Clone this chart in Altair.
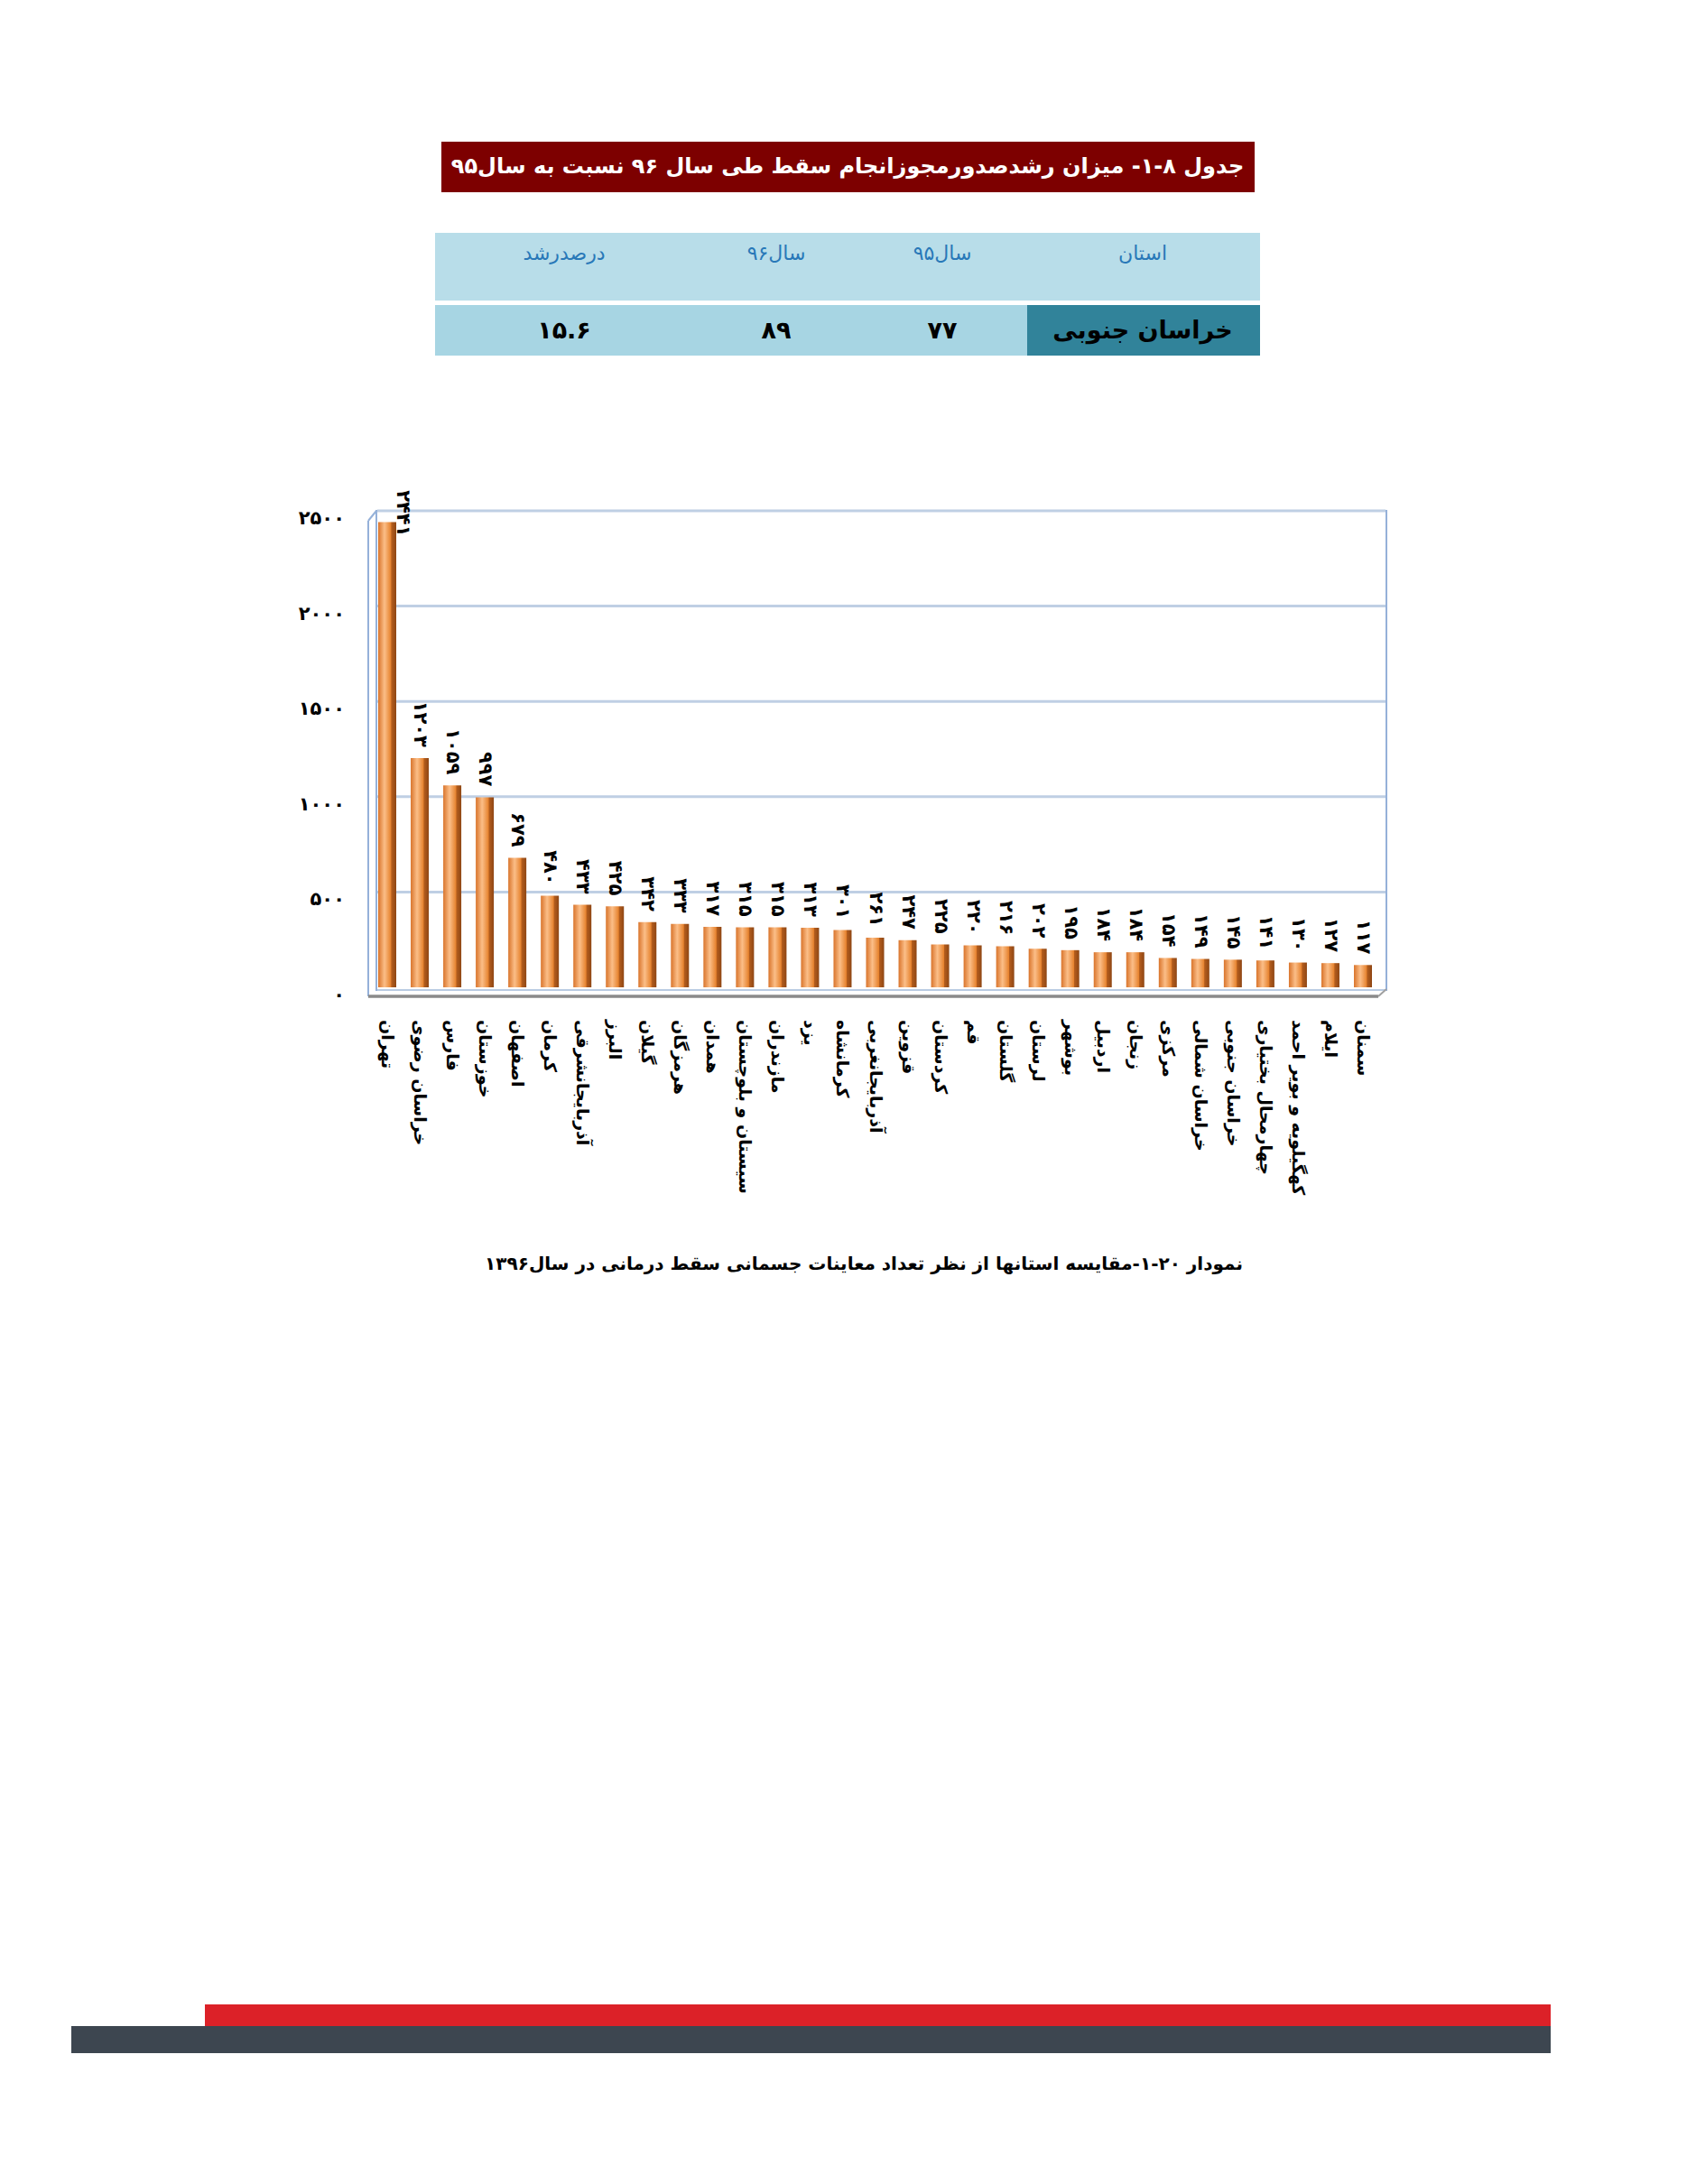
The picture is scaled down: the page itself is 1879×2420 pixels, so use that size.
import altair as alt
import pandas as pd

# ---------------- data ----------------
provinces = ["تهران", "خراسان رضوی", "فارس", "خوزستان", "اصفهان", "کرمان",
             "آذربایجانشرقی", "البرز", "گیلان", "هرمزگان", "همدان",
             "سیستان و بلوچستان", "مازندران", "یزد", "کرمانشاه", "آذربایجانغربی",
             "قزوین", "کردستان", "قم", "گلستان", "لرستان", "بوشهر", "اردبیل",
             "زنجان", "مرکزی", "خراسان شمالی", "خراسان جنوبی", "چهارمحال بختیاری",
             "کهگیلویه و بویر احمد", "ایلام", "سمنان"]
counts = [2441, 1203, 1059, 997, 679, 480, 433, 425, 342, 333, 317, 315, 315,
          313, 301, 261, 247, 225, 220, 216, 202, 195, 184, 184, 154, 149, 145,
          141, 130, 127, 117]
y_ticks = [0, 500, 1000, 1500, 2000, 2500]

title_text = "جدول ۸-۱- میزان رشدصدورمجوزانجام سقط طی سال ۹۶ نسبت به سال۹۵"
table_headers = ["استان", "سال۹۵", "سال۹۶", "درصدرشد"]
table_row = ["خراسان جنوبی", "۷۷", "۸۹", "۱۵.۶"]
caption_text = "نمودار ۲۰-۱-مقایسه استانها از نظر تعداد معاینات جسمانی سقط درمانی در سال۱۳۹۶"

FA = str.maketrans("0123456789", "۰۱۲۳۴۵۶۷۸۹")
FONT = "DejaVu Sans"

df = pd.DataFrame({
    "province": provinces,
    "count": counts,
    "label": [str(v).translate(FA) for v in counts],
})
ticks_df = pd.DataFrame({"v": y_ticks, "t": [str(v).translate(FA) for v in y_ticks]})

# ---------------- scales ----------------
xs = alt.Scale(type="point", domain=provinces, range=[429, 1510], padding=0)
ys = alt.Scale(domain=[0, 2500], range=[1094, 566], nice=False, zero=True)
X = alt.X("province:N", scale=xs, axis=None, sort=provinces)


def one():
    return alt.Data(values=[{}])


def rect(x1, x2, y1, y2, color, stroke=None, sw=0, fill_op=1):
    kw = dict(color=color, fillOpacity=fill_op)
    if stroke:
        kw.update(stroke=stroke, strokeWidth=sw)
    return alt.Chart(one()).mark_rect(**kw).encode(
        x=alt.value(x1), x2=alt.value(x2), y=alt.value(y1), y2=alt.value(y2))


def line(x1, y1, x2, y2, color, sw):
    return alt.Chart(one()).mark_rule(color=color, strokeWidth=sw).encode(
        x=alt.value(x1), x2=alt.value(x2), y=alt.value(y1), y2=alt.value(y2))


def label(text, x, y, size, color="black", weight="bold", align="center"):
    return alt.Chart(alt.Data(values=[{"t": text}])).mark_text(
        font=FONT, fontSize=size, fontWeight=weight, color=color, align=align,
        baseline="middle").encode(x=alt.value(x), y=alt.value(y), text="t:N")


layers = []

# ---------------- banner ----------------
layers.append(rect(489, 1390, 157, 213, "#7d0000"))
layers.append(label(title_text, 939, 185, 24, color="white"))

# ---------------- table ----------------
layers.append(rect(482, 1396, 258, 333, "#b8dde9"))
layers.append(rect(482, 1396, 338, 394, "#a7d5e3"))
layers.append(rect(1138, 1396, 338, 394, "#31839a"))
col_x = [1266, 1044, 860, 625]
for h, cx in zip(table_headers, col_x):
    layers.append(label(h, cx, 281, 22, color="#2878b8", weight="normal"))
for v, cx in zip(table_row, col_x):
    layers.append(label(v, cx, 367, 27, color="black"))

# ---------------- chart frame ----------------
layers.append(rect(417, 1536, 566, 1097, "white", stroke="#95b1d9", sw=2, fill_op=0))
layers.append(line(408, 577, 408, 1104, "#95b1d9", 2))
layers.append(line(408, 577, 417, 566, "#95b1d9", 2))

grid = alt.Chart(ticks_df).transform_filter("datum.v > 0").mark_rule(
    color="#bfcfe4", strokeWidth=3).encode(
    y=alt.Y("v:Q", scale=ys, axis=None), x=alt.value(418), x2=alt.value(1535))
layers.append(grid)

ylabels = alt.Chart(ticks_df).mark_text(
    font=FONT, fontSize=21, fontWeight="bold", align="right", baseline="middle",
    dy=9, color="black").encode(
    y=alt.Y("v:Q", scale=ys, axis=None), x=alt.value(382), text="t:N")
layers.append(ylabels)

# floor
layers.append(line(418, 1097, 1536, 1097, "#b9cbe2", 2))
layers.append(line(408, 1104, 1527, 1104, "#8a8a8a", 3.5))
layers.append(line(1527, 1104, 1536, 1096, "#a0a0a0", 2))

# ---------------- bars ----------------
grad = alt.LinearGradient(
    gradient="linear", x1=0, x2=1, y1=0, y2=0,
    stops=[alt.GradientStop(color="#d9742b", offset=0),
           alt.GradientStop(color="#fbbe88", offset=0.35),
           alt.GradientStop(color="#e6832f", offset=0.7),
           alt.GradientStop(color="#b45d1d", offset=0.74),
           alt.GradientStop(color="#8e4614", offset=1)])
bars = alt.Chart(df).mark_bar(color=grad, width=20).encode(
    x=X, y=alt.Y("count:Q", scale=ys, axis=None), y2=alt.value(1102))
layers.append(bars)

vlabels = alt.Chart(df).transform_filter("datum.count < 2000").mark_text(
    font=FONT, fontSize=21, fontWeight="bold", angle=90, align="right",
    baseline="middle", dx=-12, color="black").encode(
    x=X, y=alt.Y("count:Q", scale=ys, axis=None), text="label:N")
layers.append(vlabels)

vlabel_top = alt.Chart(df).transform_filter("datum.count >= 2000").mark_text(
    font=FONT, fontSize=21, fontWeight="bold", angle=90, align="right",
    baseline="middle", dx=16, dy=-17, color="black").encode(
    x=X, y=alt.Y("count:Q", scale=ys, axis=None), text="label:N")
layers.append(vlabel_top)

xlabels = alt.Chart(df).mark_text(
    font=FONT, fontSize=19, fontWeight="bold", angle=90, align="left",
    baseline="middle", color="black").encode(
    x=X, y=alt.value(1130), text="province:N")
layers.append(xlabels)

# ---------------- caption ----------------
layers.append(label(caption_text, 957, 1401, 20))

# ---------------- footer ----------------
layers.append(rect(227, 1718, 2221, 2245, "#dc2128"))
layers.append(rect(79, 1718, 2245, 2275, "#3d4650"))

chart = alt.layer(*layers).properties(
    width=1879, height=2420, padding=0,
    autosize=alt.AutoSizeParams(type="none"),
    background="white",
).configure_view(stroke=None)

chart.save("out.html", embed_options={"renderer": "svg", "actions": False})
